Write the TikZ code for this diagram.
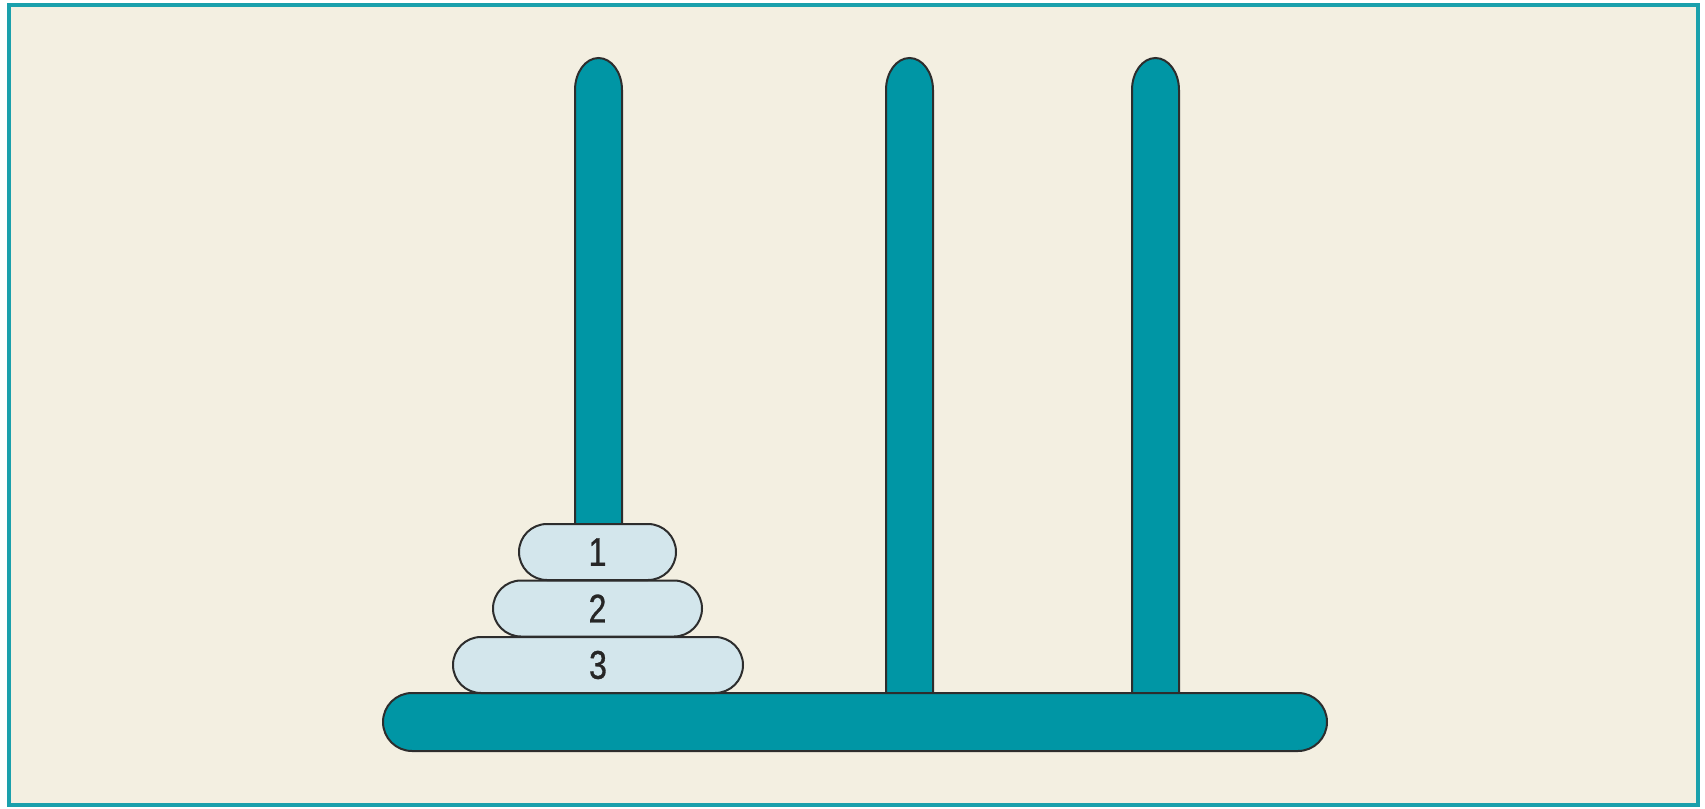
\documentclass[tikz,border=0pt]{standalone}
\usepackage{fontspec}
\usetikzlibrary{shapes.misc}
\newfontfamily\digitfont[FakeStretch=0.8,FakeBold=0.8]{Liberation Sans}
\definecolor{teal}{RGB}{0,150,165}
\definecolor{frameteal}{RGB}{26,160,172}
\definecolor{cream}{RGB}{243,239,225}
\definecolor{diskblue}{RGB}{211,230,236}
\definecolor{outline}{RGB}{45,45,45}
\tikzset{
  peg/.style={fill=teal, draw=outline, line width=1pt},
  basebar/.style={fill=teal, draw=outline, line width=1pt, rounded corners=14.5pt},
  disk/.style={rounded rectangle, fill=diskblue, draw=outline, line width=1pt,
    minimum height=28pt, inner sep=0pt, font=\digitfont\fontsize{20}{20}\selectfont,
    text=black!85},
}
\begin{document}
\begin{tikzpicture}[x=0.5pt,y=-0.5pt]
  \useasboundingbox (0,0) rectangle (1705,809);
  \fill[white] (0,0) rectangle (1705,809);
  % frame
  \draw[frameteal, fill=cream, line width=2pt] (9,5) rectangle (1698,805);
  % pegs: straight sides with an elongated rounded top
  \draw[peg] (575,560) -- (575,90) arc[start angle=180,end angle=0,x radius=11.75pt,y radius=16pt] -- (622,560);
  \draw[peg] (886,710) -- (886,90) arc[start angle=180,end angle=0,x radius=11.75pt,y radius=16pt] -- (933,710);
  \draw[peg] (1132,710) -- (1132,90) arc[start angle=180,end angle=0,x radius=11.75pt,y radius=16pt] -- (1179,710);
  % base
  \draw[basebar] (383,693) rectangle (1327,751);
  % disks
  \node[disk, minimum width=145pt] (d3) at (598,665) {3};
  \node[disk, minimum width=104.5pt] (d2) at (597.5,608.5) {2};
  \node[disk, minimum width=78.5pt] (d1) at (597.5,552) {1};
\end{tikzpicture}
\end{document}
